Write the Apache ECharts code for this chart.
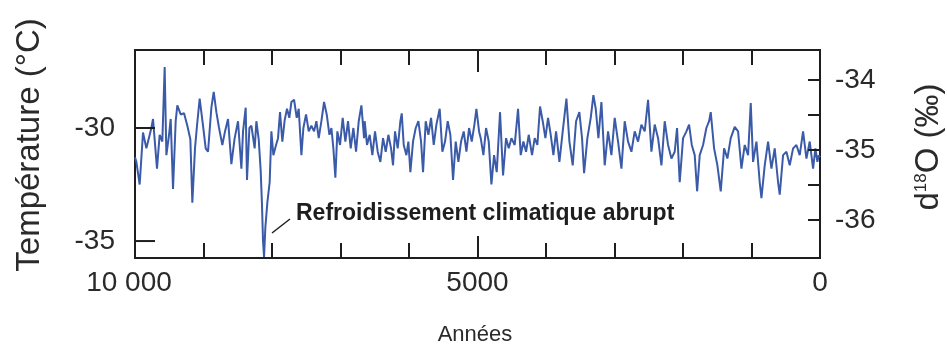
<!DOCTYPE html>
<html><head><meta charset="utf-8">
<script src="https://cdn.jsdelivr.net/npm/echarts@6/dist/echarts.min.js"></script>
<style>html,body{margin:0;padding:0;background:#fff}#c{width:947px;height:346px}</style>
</head><body><div id="c"></div>
<script>
// Years before present (x) and temperature in °C (left axis)
const years = [
10000,9980,9932,9883,9834,9761,9737,9679,9640,9601,9567,9542,9503,9479,9445,9406,9382,9333,9284,9236,
9192,9163,9124,9095,9056,9007,8968,8934,8885,8851,8812,8773,8725,8686,8642,8593,8545,8496,8447,8423,
8384,8365,8330,8301,8253,8228,8194,8165,8146,8131,8116,8097,8068,8034,8009,7980,7941,7912,7883,7849,
7815,7781,7747,7717,7678,7639,7610,7571,7542,7503,7464,7425,7386,7352,7318,7279,7240,7201,7162,7133,
7104,7075,7046,7007,6968,6929,6890,6851,6812,6773,6734,6695,6656,6647,6613,6574,6535,6496,6457,6418,
6379,6340,6301,6262,6233,6204,6165,6126,6106,6077,6038,6009,5980,5941,5902,5863,5824,5795,5756,5717,
5678,5639,5600,5552,5513,5474,5435,5396,5357,5318,5279,5240,5201,5162,5123,5084,5045,5016,4977,4953,
4914,4875,4836,4797,4758,4719,4671,4627,4583,4544,4505,4457,4408,4369,4330,4291,4252,4204,4165,4126,
4087,4048,4009,3970,3931,3892,3853,3804,3756,3702,3658,3610,3561,3513,3474,3444,3396,3347,3308,3274,
3235,3191,3143,3094,3045,2997,2948,2899,2851,2802,2753,2705,2656,2607,2559,2510,2461,2413,2364,2315,
2267,2218,2169,2121,2087,2048,1999,1950,1911,1872,1829,1794,1756,1707,1659,1619,1595,1546,1498,1449,
1400,1352,1303,1245,1196,1147,1099,1050,1011,977,928,880,855,807,758,709,661,612,588,539,
490,442,393,344,296,247,198,150,101,67,38,18,0
];
const temps = [
-31.3,-31.5,-32.5,-30.2,-30.9,-30.0,-29.6,-31.8,-30.3,-30.6,-27.3,-31.2,-30.3,-29.6,-32.7,-29.7,-29.0,-29.4,-29.35,-29.9,
-30.5,-33.3,-30.9,-29.9,-28.7,-29.9,-30.9,-31.05,-29.1,-28.4,-29.3,-30.0,-30.75,-30.15,-29.6,-31.6,-30.45,-29.7,-31.8,-30.15,
-29.1,-32.3,-30.0,-29.9,-30.9,-29.7,-30.5,-31.9,-33.4,-35.0,-35.7,-34.4,-33.3,-32.4,-30.15,-31.2,-30.75,-30.45,-29.3,-30.6,
-29.65,-29.15,-29.55,-28.85,-28.75,-29.55,-29.15,-31.2,-30.0,-29.4,-30.15,-29.9,-30.15,-29.7,-30.45,-29.7,-28.85,-29.4,-30.3,-30.0,
-30.9,-32.2,-30.15,-30.75,-29.55,-30.6,-29.7,-30.9,-30.0,-31.05,-29.7,-29.0,-30.45,-29.7,-30.75,-30.3,-31.2,-30.15,-31.05,-31.5,
-30.45,-31.05,-30.3,-30.9,-31.65,-30.15,-30.9,-29.7,-29.35,-30.75,-31.2,-30.6,-31.95,-30.6,-30.0,-29.7,-30.6,-31.95,-29.7,-30.3,
-29.55,-30.75,-29.85,-29.15,-31.05,-30.6,-29.7,-30.3,-32.3,-30.6,-31.5,-30.6,-30.15,-31.05,-30.0,-30.6,-29.85,-29.15,-30.15,-30.45,
-31.2,-30.0,-30.6,-32.5,-31.2,-31.95,-29.3,-32.1,-30.45,-30.9,-30.45,-30.75,-29.15,-31.2,-30.6,-31.05,-30.3,-31.2,-30.45,-30.75,
-29.05,-29.7,-30.45,-29.55,-30.3,-31.2,-30.15,-31.5,-30.15,-28.7,-30.6,-31.65,-29.7,-29.3,-30.45,-32.0,-30.45,-29.55,-28.55,-29.15,
-30.45,-28.85,-31.65,-30.15,-31.2,-29.55,-30.6,-31.8,-29.7,-30.6,-31.05,-30.15,-30.6,-29.85,-30.15,-28.75,-31.05,-29.85,-30.45,-31.65,
-29.7,-30.75,-31.35,-31.05,-30.0,-32.4,-30.45,-30.15,-29.85,-30.75,-31.2,-32.8,-31.2,-30.75,-30.0,-29.7,-29.3,-30.9,-31.65,-32.8,
-30.9,-31.35,-30.45,-29.95,-30.15,-31.8,-30.75,-31.2,-28.9,-31.5,-30.6,-32.4,-33.1,-31.65,-30.6,-31.8,-30.9,-32.4,-32.95,-31.2,
-31.05,-31.65,-30.9,-30.75,-31.2,-30.15,-31.35,-30.6,-31.8,-30.9,-31.5,-31.2,-31.3
];
const xTickLabels = {10000: '10 000', 5000: '5000', 0: '0'};
const leftTickValues = [-35, -30];
const rightLabelValues = [-36, -35, -34];
const rightTickValues = [-36, -35.5, -35, -34.5, -34];

const FONT = "'Liberation Sans', Arial, Helvetica, sans-serif";
const TXT = '#2a2a2a';
const AX = '#1e1e1e';
const chart = echarts.init(document.getElementById('c'), null, {renderer: 'canvas'});

function xAxisDef(pos, interval, len, labels) {
  return {
    type: 'value', position: pos, inverse: true, min: 0, max: 10000, interval: interval,
    axisLine: {show: false}, splitLine: {show: false},
    axisTick: {show: true, inside: true, length: len, lineStyle: {color: AX, width: 2}},
    axisLabel: labels ? {
      show: true, margin: 11, fontSize: 28, color: TXT, fontFamily: FONT,
      showMinLabel: true, showMaxLabel: true, hideOverlap: false,
      formatter: function (v) {
        const t = xTickLabels[v];
        if (t === undefined) return '';
        return v === 10000 ? '{l|' + t + '}' : t;
      },
      rich: {l: {fontSize: 28, color: TXT, fontFamily: FONT, padding: [0, 12, 0, 0]}}
    } : {show: false}
  };
}

function tickSeries(yIdx, xVal, values, len) {
  return {
    type: 'custom', xAxisIndex: 0, yAxisIndex: yIdx, silent: true, z: 5,
    data: values.map(v => [xVal, v]),
    renderItem: function (params, api) {
      const p = api.coord([api.value(0), api.value(1)]);
      return {type: 'line', shape: {x1: p[0], y1: p[1], x2: p[0] + len, y2: p[1]},
              style: {stroke: AX, lineWidth: 2}};
    }
  };
}

const pairs = years.map((y, i) => [y, temps[i]]);

chart.setOption({
  animation: false,
  backgroundColor: '#fff',
  grid: {left: 135, right: 127, top: 50, bottom: 88, show: true, borderColor: AX, borderWidth: 2, backgroundColor: 'transparent'},
  xAxis: [
    xAxisDef('bottom', 1000, 15, true),
    xAxisDef('bottom', 5000, 22, false),
    xAxisDef('top', 1000, 15, false),
    xAxisDef('top', 5000, 22, false)
  ],
  yAxis: [
    {
      type: 'value', position: 'left', min: -35.75, max: -26.55,
      axisLine: {show: false}, splitLine: {show: false}, axisTick: {show: false},
      axisLabel: {show: true, customValues: leftTickValues, margin: 20, fontSize: 28, color: TXT, fontFamily: FONT}
    },
    {
      type: 'value', position: 'right', min: -36.543, max: -33.571,
      axisLine: {show: false}, splitLine: {show: false}, axisTick: {show: false},
      axisLabel: {show: true, customValues: rightLabelValues, margin: 15, fontSize: 28, color: TXT, fontFamily: FONT}
    }
  ],
  series: [
    {
      type: 'line', xAxisIndex: 0, yAxisIndex: 0, data: pairs, showSymbol: false, symbol: 'none',
      lineStyle: {color: '#3b5ba9', width: 2}, z: 3
    },
    tickSeries(0, 10000, leftTickValues, 20),
    tickSeries(1, 0, rightTickValues, -12)
  ],
  graphic: [
    {type: 'text', x: 30, y: 145, rotation: Math.PI / 2,
     style: {text: 'Température (°C)', font: '33px ' + FONT, fill: TXT, align: 'center', verticalAlign: 'middle'}},
    {type: 'text', x: 929, y: 147, rotation: Math.PI / 2,
     style: {text: '{a|d}{s|18}{a|O (‰)}', align: 'center', verticalAlign: 'middle',
       rich: {a: {fontSize: 33, fontFamily: FONT, fill: TXT, color: TXT},
              s: {fontSize: 17, fontFamily: FONT, fill: TXT, color: TXT, verticalAlign: 'top', padding: [0, 0, 10, 0]}}}},
    {type: 'text', x: 475, y: 335,
     style: {text: 'Années', font: '22px ' + FONT, fill: TXT, align: 'center', verticalAlign: 'middle'}},
    {type: 'text', x: 296, y: 214,
     style: {text: 'Refroidissement climatique abrupt', font: 'bold 23px ' + FONT, fill: '#1e1e1e', align: 'left', verticalAlign: 'middle'}},
    {type: 'line', shape: {x1: 272, y1: 233, x2: 290, y2: 219}, style: {stroke: '#1e1e1e', lineWidth: 1.5}}
  ]
});
</script>
</body></html>
